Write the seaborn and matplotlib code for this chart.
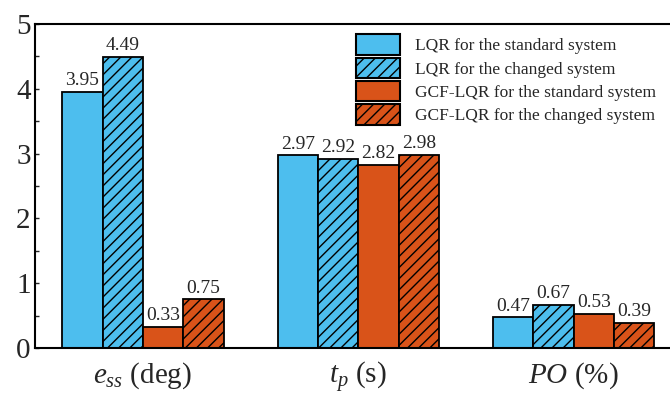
import matplotlib
matplotlib.use("Agg")
import matplotlib.pyplot as plt
import matplotlib.patches as mpatches
from matplotlib.ticker import MultipleLocator
import pandas as pd
import seaborn as sns

# Data
metrics = [r"$e_{ss}$ (deg)", r"$t_p$ (s)", r"$PO$ (%)"]
methods = [
    "LQR for the standard system",
    "LQR for the changed system",
    "GCF-LQR for the standard system",
    "GCF-LQR for the changed system",
]
lqr_std = [3.95, 2.97, 0.47]
lqr_chg = [4.49, 2.92, 0.67]
gcf_std = [0.33, 2.82, 0.53]
gcf_chg = [0.75, 2.98, 0.39]

colors = ["#4DBEEE", "#4DBEEE", "#D95319", "#D95319"]
hatches = ["", "///", "", "///"]

rows = []
for method, vals in zip(methods, [lqr_std, lqr_chg, gcf_std, gcf_chg]):
    for m, v in zip(metrics, vals):
        rows.append({"metric": m, "value": v, "method": method})
df = pd.DataFrame(rows)

sns.set_theme(style="ticks")
plt.rcParams["font.family"] = ["Liberation Serif", "DejaVu Serif"]
plt.rcParams["mathtext.fontset"] = "custom"
plt.rcParams["mathtext.rm"] = "Liberation Serif"
plt.rcParams["mathtext.it"] = "Liberation Serif:italic"
plt.rcParams["hatch.linewidth"] = 1.0

fig = plt.figure(figsize=(6.7, 3.99), dpi=100)
ax = fig.add_axes([0.052, 0.128, 0.948, 0.812])

sns.barplot(data=df, x="metric", y="value", hue="method", hue_order=methods,
            order=metrics, palette=colors, width=0.75, edgecolor="black",
            linewidth=1.3, saturation=1, ax=ax, legend=False)

for cont, h in zip(ax.containers, hatches):
    for p in cont.patches:
        p.set_hatch(h)
    ax.bar_label(cont, fmt="%.2f", padding=2, fontsize=14)

# legend with hatched patches, no frame
handles = [mpatches.Patch(facecolor=c, edgecolor="black", hatch=h, linewidth=1.5)
           for c, h in zip(colors, hatches)]
ax.legend(handles, methods, loc="upper right", bbox_to_anchor=(0.995, 1.0),
          frameon=False, fontsize=12.5, handlelength=2.5, handleheight=1.45,
          labelspacing=0.15, handletextpad=0.9, borderaxespad=0.2)

ax.set_xlim(-0.502, 2.447)
ax.set_ylim(0, 5)
ax.yaxis.set_major_locator(MultipleLocator(1))
ax.yaxis.set_minor_locator(MultipleLocator(0.5))
ax.tick_params(axis="y", which="both", direction="in", length=3, width=1,
               labelsize=21, pad=3)
ax.tick_params(axis="x", length=0, labelsize=21, pad=9)
ax.set_xlabel("")
ax.set_ylabel("")
for s in ["left", "bottom", "top"]:
    ax.spines[s].set_linewidth(1.5)
    ax.spines[s].set_color("black")
ax.spines["right"].set_visible(False)

fig.savefig("out.png", dpi=100)
plt.close(fig)
